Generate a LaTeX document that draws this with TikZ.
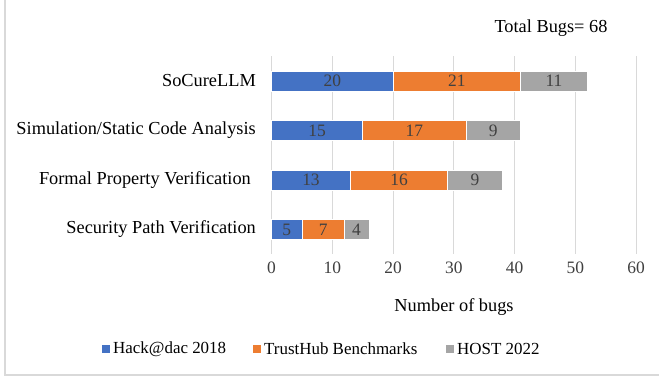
\documentclass[tikz,border=0pt]{standalone}
\usepackage{fontspec}
\setmainfont{Liberation Serif}
\definecolor{cblue}{HTML}{4472C4}
\definecolor{corange}{HTML}{ED7D31}
\definecolor{cgray}{HTML}{A5A5A5}
\definecolor{gridgray}{HTML}{D9D9D9}
\definecolor{framegray}{HTML}{D9D9D9}
\definecolor{valtext}{HTML}{404040}
\begin{document}
\begin{tikzpicture}[x=1bp,y=-1bp,
  axtext/.style={font=\fontsize{18.4}{21}\selectfont, text=black, inner sep=0pt},
  ticktext/.style={font=\fontsize{17.5}{20}\selectfont, text=valtext, inner sep=0pt},
  valtext/.style={font=\fontsize{17.5}{20}\selectfont, text=valtext, inner sep=0pt},
  legtext/.style={font=\fontsize{17}{20}\selectfont, text=black, inner sep=0pt, anchor=west},
  seg/.style={draw=white, line width=0.4bp}]
\useasboundingbox (0,0) rectangle (659,377);
\fill[white] (0,0) rectangle (659,377);
\draw[framegray, line width=1.2bp] (5,0) -- (5,375) -- (659,375);
% gridlines
\foreach \i in {0,...,6}{
  \draw[gridgray, line width=1bp] ({271.5+60.75*\i},56) -- ({271.5+60.75*\i},254);
  \node[ticktext] (t\i) at ({271.5+60.75*\i},268) {\the\numexpr\i*10\relax};
}
% bars
\def\u{6.075}
\foreach \yc/\a/\b/\c/\lx/\lab/\nm in {
  81/20/21/11/256/SoCureLLM/r1,
  130.5/15/17/9/256/Simulation\slash Static Code Analysis/r2,
  180/13/16/9/251/Formal Property Verification/r3,
  229.5/5/7/4/256/Security Path Verification/r4}{
  \pgfmathsetmacro\xa{271.5+\a*\u}
  \pgfmathsetmacro\xb{\xa+\b*\u}
  \pgfmathsetmacro\xc{\xb+\c*\u}
  \fill[cblue, seg] (271.5,\yc-10) rectangle (\xa,\yc+10);
  \fill[corange, seg] (\xa,\yc-10) rectangle (\xb,\yc+10);
  \fill[cgray, seg] (\xb,\yc-10) rectangle (\xc,\yc+10);
  \node[valtext] (\nm a) at ({(271.5+\xa)/2},\yc) {\a};
  \node[valtext] (\nm b) at ({(\xa+\xb)/2},\yc) {\b};
  \node[valtext] (\nm c) at ({(\xb+\xc)/2},\yc) {\c};
  \node[axtext, anchor=east] (\nm lab) at (\lx,\yc) {\lab};
}
\node[axtext] (xlabel) at (454,307) {Number of bugs};
\node[axtext] (total) at (551,28) {Total Bugs= 68};
% legend
\fill[cblue] (102,345) rectangle (110,353);
\node[legtext] (l1) at (113,349) {Hack@dac 2018};
\fill[corange] (253,345) rectangle (261,353);
\node[legtext] (l2) at (264,349) {TrustHub Benchmarks};
\fill[cgray] (446,345) rectangle (454,353);
\node[legtext] (l3) at (457,349) {HOST 2022};
\end{tikzpicture}
\end{document}
